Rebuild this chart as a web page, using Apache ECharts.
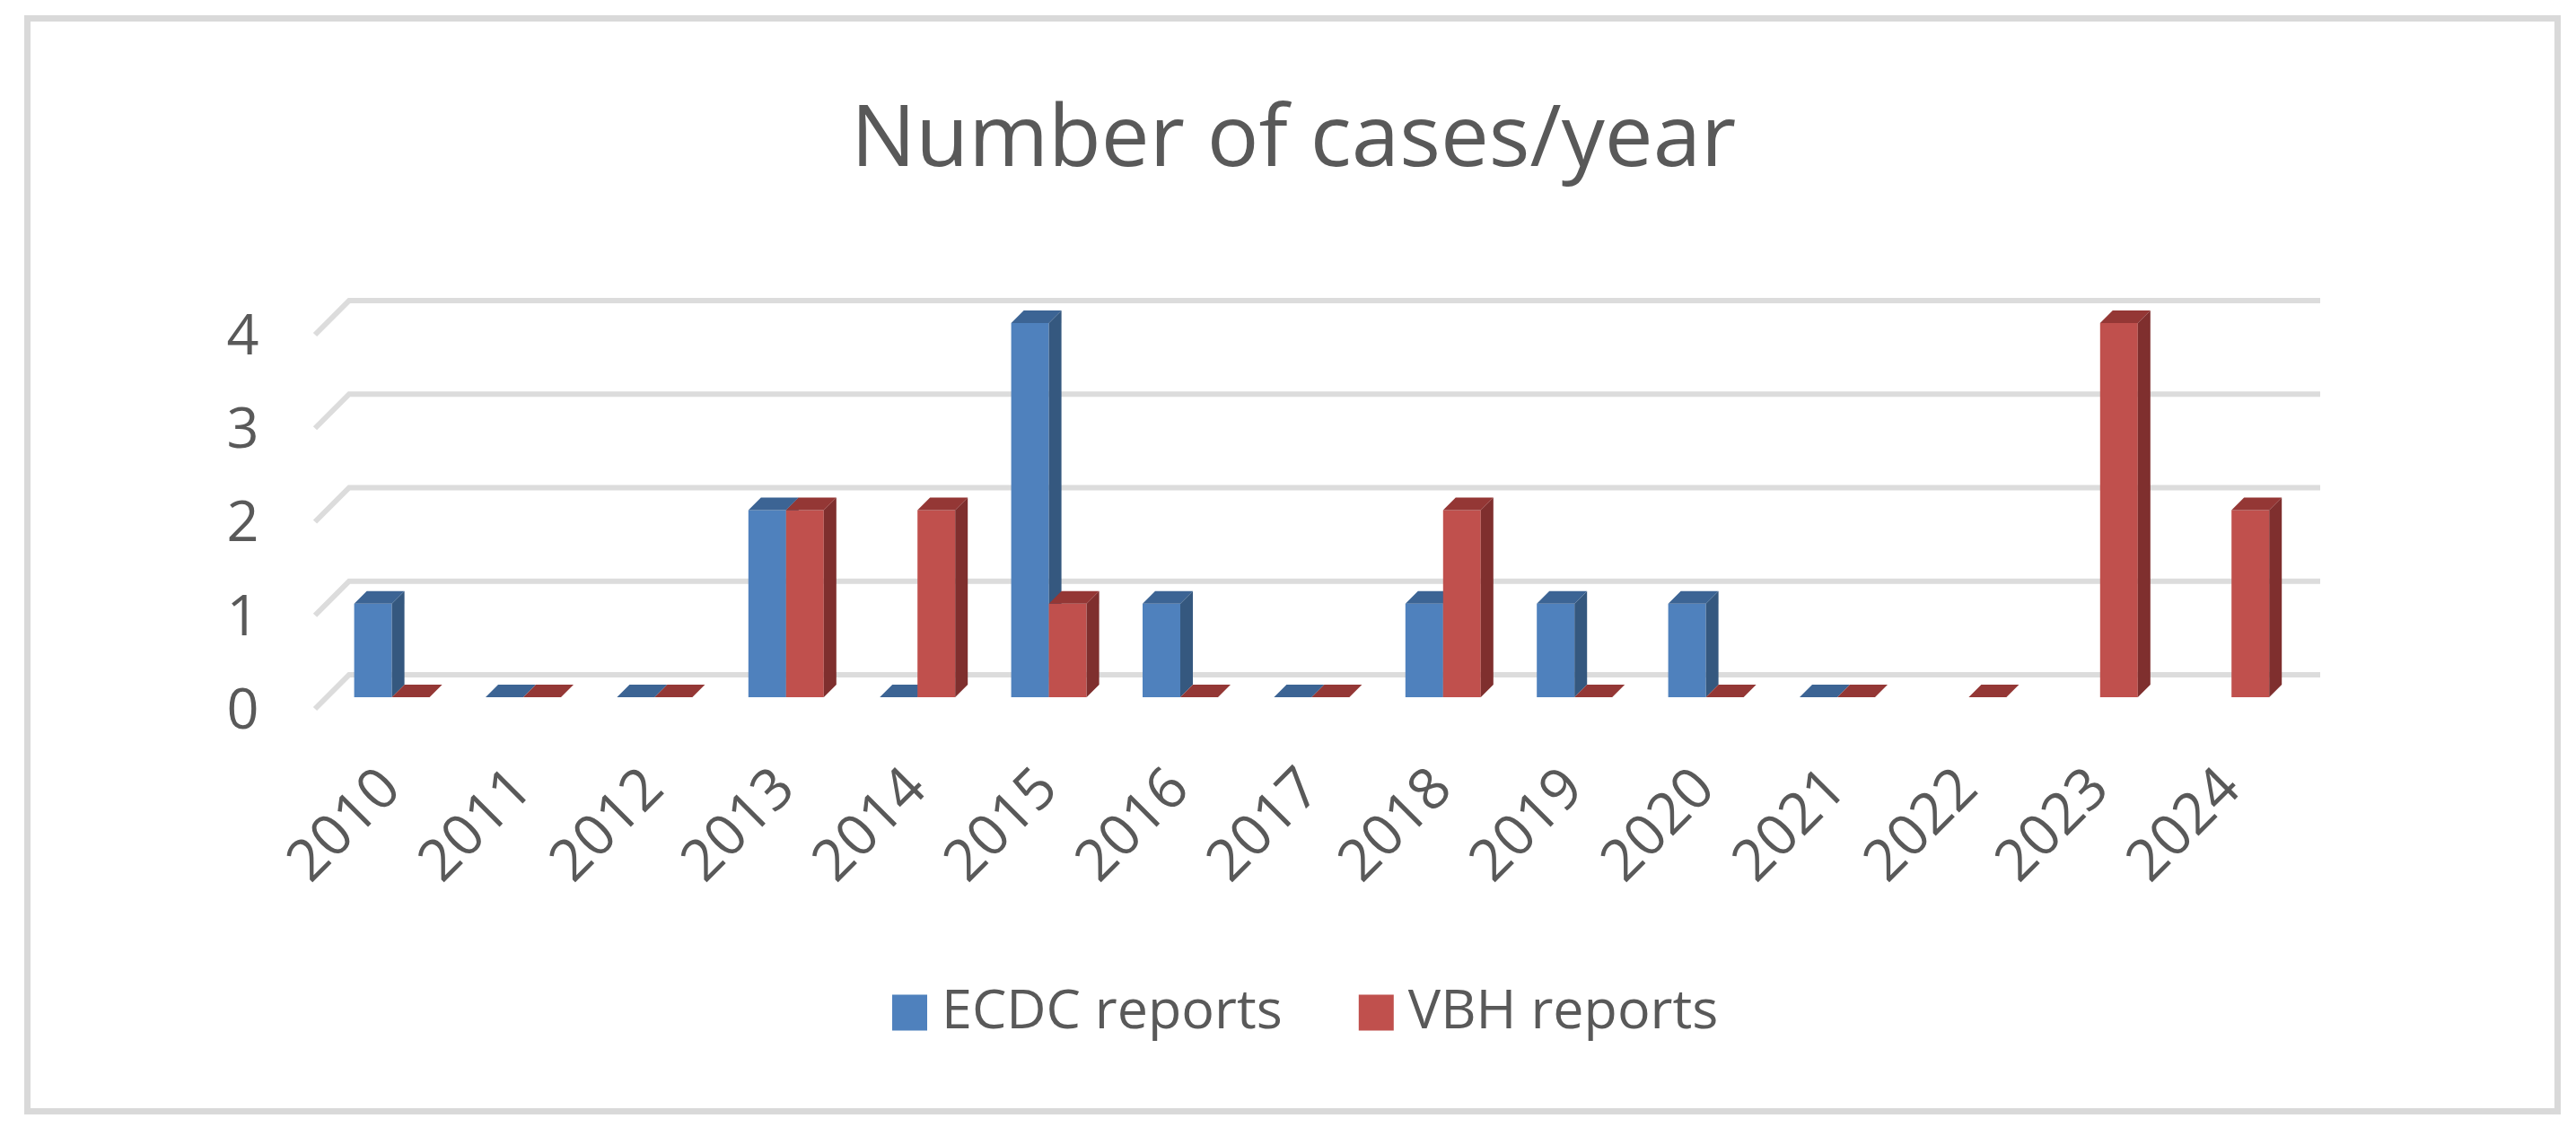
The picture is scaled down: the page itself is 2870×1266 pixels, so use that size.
<!DOCTYPE html>
<html><head><meta charset="utf-8">
<style>html,body{margin:0;padding:0;background:#fff}#c{width:2870px;height:1266px}</style>
<script src="https://cdn.jsdelivr.net/npm/echarts@6/dist/echarts.min.js"></script>
</head><body><div id="c"></div>
<script>
const years = ['2010','2011','2012','2013','2014','2015','2016','2017','2018','2019','2020','2021','2022','2023','2024'];
const ecdc = [1,0,0,2,0,4,1,0,1,1,1,0,null,null,null];
const vbh = [0,0,0,2,2,1,0,0,2,0,0,0,0,4,2];
const ticks = [0,1,2,3,4];
const FONT = 'Open Sans';
const TEXT = '#595959';
const DEPTH = 14;

function barRenderer(seriesSlot, front, side, top) {
  return function (params, api) {
    const v = api.value(1);
    if (v === null || v === undefined || isNaN(v)) return null;
    const base = api.coord([api.value(0), 0]);
    const head = api.coord([api.value(0), v]);
    const w = api.size([1, 0])[0] * 0.2869;
    const x0 = base[0] + seriesSlot * w;
    const x1 = x0 + w;
    const yb = base[1], yt = head[1];
    const children = [];
    if (v > 0) {
      children.push({type:'rect', shape:{x:x0, y:yt, width:w, height:yb-yt}, style:{fill:front}});
      children.push({type:'polygon', shape:{points:[[x1,yt],[x1+DEPTH,yt-DEPTH],[x1+DEPTH,yb-DEPTH],[x1,yb]]}, style:{fill:side}});
    }
    children.push({type:'polygon', shape:{points:[[x0,yt],[x0+DEPTH,yt-DEPTH],[x1+DEPTH,yt-DEPTH],[x1,yt]]}, style:{fill:top}});
    return {type:'group', children};
  };
}
function gridRenderer(params, api) {
  const cs = params.coordSys;
  const y = api.coord([0, api.value(0)])[1];
  return {type:'polyline', shape:{points:[
      [cs.x-12.4, y+13],[cs.x+25.6, y-25],[cs.x+cs.width+25.6, y-25]]},
    style:{fill:null, stroke:'#dcdcdc', lineWidth:6}};
}

const hiddenAxis = {show:false};
const chart = echarts.init(document.getElementById('c'), null, {renderer:'canvas'});
chart.setOption({
  animation:false,
  backgroundColor:'#fff',
  textStyle:{fontFamily:FONT},
  graphic:[{type:'rect', z:-10, shape:{x:30.5,y:20.5,width:2819,height:1218}, style:{fill:'#fff',stroke:'#d9d9d9',lineWidth:7}}],
  title:{text:'Number of cases/year', left:948, top:110, padding:0,
    textStyle:{fontFamily:FONT,fontSize:96,fontWeight:'normal',color:TEXT}},
  legend:{top:1098, left:994, itemWidth:39, itemHeight:40, itemGap:85, padding:0,
    icon:'rect',
    textStyle:{fontFamily:FONT,fontSize:61,color:TEXT,padding:[0,0,0,11]},
    data:['ECDC reports','VBH reports']},
  grid:[
    {left:363.4, top:360, width:2196, height:417, containLabel:false},
    {left:363.4, top:377, width:2196, height:417, containLabel:false}
  ],
  xAxis:[
    {type:'category', data:years, axisLine:{show:false}, axisTick:{show:false},
      axisLabel:{rotate:45, interval:0, fontFamily:FONT, fontSize:64, color:TEXT, margin:92}},
    {type:'category', gridIndex:1, data:years, show:false}
  ],
  yAxis:[
    {type:'value', min:0, max:4, interval:1, show:false},
    {type:'value', gridIndex:1, min:0, max:4, interval:1, splitLine:{show:false}, axisLine:{show:false}, axisTick:{show:false},
      axisLabel:{fontFamily:FONT, fontSize:63, color:TEXT, margin:75}}
  ],
  series:[
    {type:'custom', name:'grid', silent:true, z:1, data:ticks.map(t=>[t]), encode:{y:0}, renderItem:gridRenderer, legendHoverLink:false},
    {type:'custom', name:'ECDC reports', z:2, itemStyle:{color:'#4f81bd'}, data:ecdc.map((v,i)=>[i,v]), encode:{x:0,y:1},
      renderItem:barRenderer(-1,'#4f81bd','#35587f','#3c6494')},
    {type:'custom', name:'VBH reports', z:3, itemStyle:{color:'#c0504d'}, data:vbh.map((v,i)=>[i,v]), encode:{x:0,y:1},
      renderItem:barRenderer(0,'#c0504d','#7f2f2e','#943735')}
  ]
});
</script></body></html>
